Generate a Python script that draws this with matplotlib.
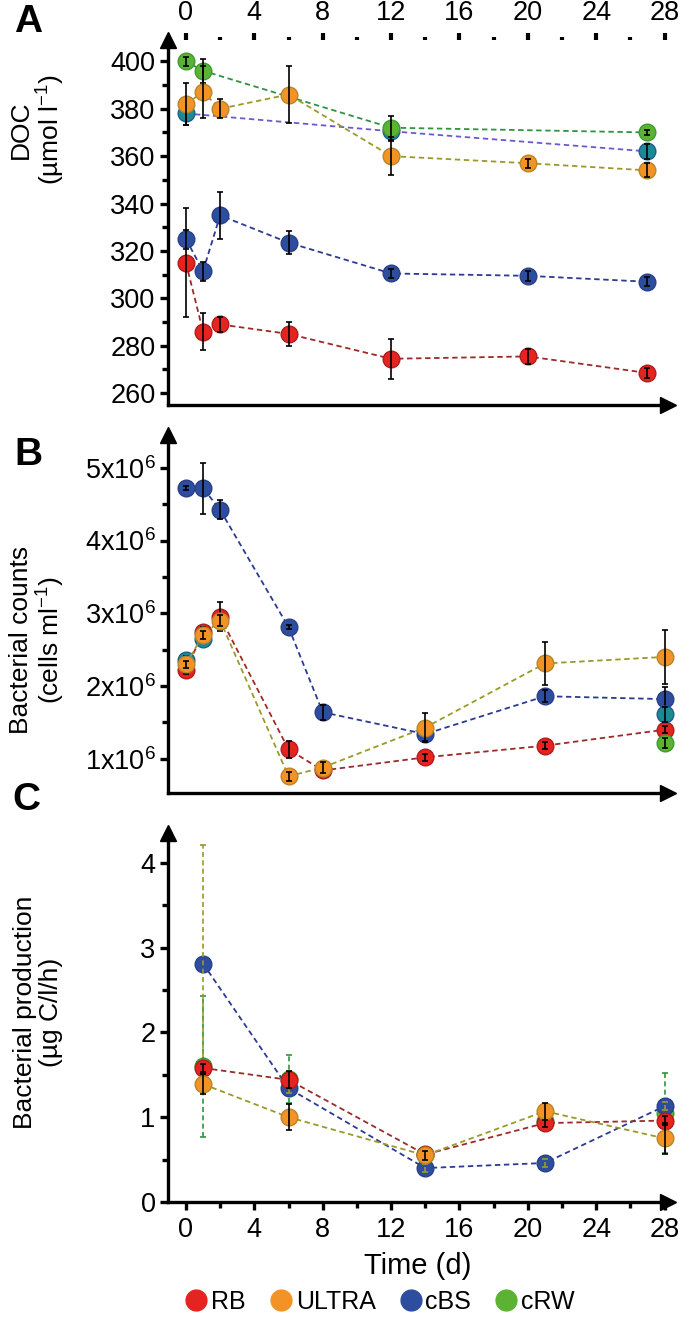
import matplotlib
matplotlib.use("Agg")
import matplotlib.pyplot as plt
from matplotlib.lines import Line2D
from matplotlib.ticker import MultipleLocator, FuncFormatter

plt.rcParams['font.family'] = ['Liberation Sans', 'DejaVu Sans']
plt.rcParams['mathtext.fontset'] = 'custom'
plt.rcParams['mathtext.rm'] = 'Liberation Sans'
plt.rcParams['mathtext.it'] = 'Liberation Sans:italic'

# ---- data -------------------------------------------------------------
# panel A: DOC (umol/l)
a_days = [0, 1, 2, 6, 12, 20, 27]
a_rb = [315, 286, 289, 285, 274.5, 275.5, 268.5]
a_rb_err = [23, 8, 3, 5, 8.5, 3, 2]
a_ultra = [382, 387, 380, 386, 360, 357, 354]
a_ultra_err = [9, 11, 4, 12, 8, 2, 3]
a_cbs = [325, 311.5, 335, 323.5, 310.5, 309.5, 307]
a_cbs_err = [4, 4, 10, 5, 2, 2, 2]
a_crw_days = [0, 1, 12, 27]
a_crw = [400, 396, 372, 370]
a_crw_err = [2, 5, 5, 1]
a_mix_days = [0, 12, 27]
a_mix = [378, 370.5, 362]
a_mix_err = [5, 4, 3]

# panel B: bacterial counts (cells/ml)
b_days = [0, 1, 2, 6, 8, 14, 21, 28]
b_rb = [2.22e6, 2.74e6, 2.95e6, 1.13e6, 0.84e6, 1.02e6, 1.18e6, 1.40e6]
b_rb_err = [0.05e6, 0.07e6, 0.2e6, 0.12e6, 0.06e6, 0.05e6, 0.05e6, 0.05e6]
b_ultra = [2.30e6, 2.70e6, 2.90e6, 0.76e6, 0.88e6, 1.43e6, 2.31e6, 2.40e6]
b_ultra_err = [0.05e6, 0.05e6, 0.08e6, 0.06e6, 0.08e6, 0.2e6, 0.3e6, 0.37e6]
b_cbs = [4.72e6, 4.72e6, 4.42e6, 2.81e6, 1.64e6, 1.34e6, 1.86e6, 1.82e6]
b_cbs_err = [0.03e6, 0.35e6, 0.13e6, 0.03e6, 0.1e6, 0.1e6, 0.08e6, 0.17e6]
b_crw_days = [28]
b_crw = [1.22e6]
b_crw_err = [0.07e6]
b_mix_days = [0, 1, 28]
b_mix = [2.36e6, 2.64e6, 1.61e6]
b_mix_err = [0.05e6, 0.05e6, 0.1e6]

# panel C: bacterial production (ug C/l/h)
c_days = [1, 6, 14, 21, 28]
c_rb = [1.58, 1.44, 0.56, 0.93, 0.96]
c_rb_err = [0.05, 0.1, 0.05, 0.05, 0.05]
c_ultra = [1.39, 1.00, 0.55, 1.07, 0.75]
c_ultra_err = [0.12, 0.15, 0.05, 0.1, 0.18]
c_cbs = [2.81, 1.34, 0.40, 0.46, 1.13]
c_cbs_err = [1.4, 0.05, 0.05, 0.05, 0.05]
c_crw = [1.6, 1.45, 0.55, 0.95, 1.05]
c_crw_err = [0.83, 0.28, 0.05, 0.1, 0.47]

labels = ['RB', 'ULTRA', 'cBS', 'cRW']
fill = {'RB': '#e52421', 'ULTRA': '#f39325', 'cBS': '#2d4e9f',
        'cRW': '#5cb233', 'mix': '#1b8a94'}
edge = {'RB': '#b01c1c', 'ULTRA': '#b8862a', 'cBS': '#2a3f88',
        'cRW': '#3f9a30', 'mix': '#1c5f8a'}
line = {'RB': '#9c2a2a', 'ULTRA': '#9a9a2a', 'cBS': '#2b3a92',
        'cRW': '#2f9440', 'mix': '#6a5ad0'}


def series(ax, days, vals, errs, key, z, connect=True, ecolor='black',
           els='-'):
    if connect:
        ax.plot(days, vals, ls=(0, (3, 2)), lw=1.3, color=line[key],
                zorder=z, clip_on=False)
    ax.plot(days, vals, 'o', ms=12, mfc=fill[key], mec=edge[key],
            mew=1, zorder=z + 0.1, clip_on=False)
    eb = ax.errorbar(days, vals, yerr=errs, fmt='none', ecolor=ecolor,
                     elinewidth=1.2, capsize=2.5, capthick=1.2,
                     zorder=z + 0.2)
    eb[2][0].set_linestyle(els)
    for c in eb[1]:
        c.set_clip_on(False)
    eb[2][0].set_clip_on(False)


def style(ax):
    for s in ['top', 'right']:
        ax.spines[s].set_visible(False)
    ax.spines['left'].set_linewidth(2.4)
    ax.spines['bottom'].set_linewidth(2.4)
    ax.plot(1, 0, '>', color='black', ms=11, transform=ax.transAxes,
            clip_on=False, zorder=20)
    ax.plot(0, 1, '^', color='black', ms=11, transform=ax.transAxes,
            clip_on=False, zorder=20)
    ax.tick_params(axis='y', which='major', direction='out', length=6,
                   width=2.4, labelsize=19.5, pad=3)
    ax.tick_params(axis='y', which='minor', direction='out', length=4,
                   width=2.4)
    ax.set_xlim(-1.05, 28.2)


W, H = 688, 1326
fig = plt.figure(figsize=(W / 100, H / 100), dpi=100)


def make_axes(top, bottom):
    l, r = 168, 668
    return fig.add_axes([l / W, 1 - bottom / H, (r - l) / W,
                         (bottom - top) / H])


axA = make_axes(40, 405)
axB = make_axes(435, 793)
axC = make_axes(833, 1202)

# panel A
style(axA)
axA.set_ylim(255, 409)
axA.yaxis.set_minor_locator(MultipleLocator(10))
axA.set_yticks(range(260, 401, 20))
axA.xaxis.set_ticks_position('top')
axA.xaxis.set_major_locator(MultipleLocator(4))
axA.xaxis.set_minor_locator(MultipleLocator(2))
axA.tick_params(axis='x', which='major', direction='out', length=5,
                width=3, labelsize=19.5, pad=5)
axA.tick_params(axis='x', which='minor', direction='out', length=2,
                width=3)
series(axA, a_mix_days, a_mix, a_mix_err, 'mix', 2)
series(axA, a_days, a_rb, a_rb_err, 'RB', 3)
series(axA, a_days, a_cbs, a_cbs_err, 'cBS', 4)
series(axA, a_crw_days, a_crw, a_crw_err, 'cRW', 5)
series(axA, a_days, a_ultra, a_ultra_err, 'ULTRA', 6)

# panel B
style(axB)
axB.set_ylim(0.53e6, 5.45e6)
axB.yaxis.set_major_locator(MultipleLocator(1e6))
axB.yaxis.set_minor_locator(MultipleLocator(0.5e6))
axB.yaxis.set_major_formatter(
    FuncFormatter(lambda v, p: r'%dx10$^{6}$' % round(v / 1e6)))
axB.tick_params(axis='x', which='both', length=0, labelbottom=False)
series(axB, b_days, b_rb, b_rb_err, 'RB', 3)
series(axB, b_crw_days, b_crw, b_crw_err, 'cRW', 3.5, connect=False)
series(axB, b_days, b_cbs, b_cbs_err, 'cBS', 4)
series(axB, b_mix_days, b_mix, b_mix_err, 'mix', 5, connect=False)
series(axB, b_days, b_ultra, b_ultra_err, 'ULTRA', 6)

# panel C
style(axC)
axC.set_ylim(0, 4.35)
axC.set_yticks([0, 1, 2, 3, 4])
axC.yaxis.set_minor_locator(MultipleLocator(0.5))
axC.xaxis.set_major_locator(MultipleLocator(4))
axC.xaxis.set_minor_locator(MultipleLocator(2))
axC.tick_params(axis='x', which='major', direction='out', length=6,
                width=2.4, labelsize=19.5, pad=5)
axC.tick_params(axis='x', which='minor', direction='out', length=4,
                width=2.4)
series(axC, c_days, c_crw, c_crw_err, 'cRW', 2, connect=False,
       ecolor=line['cRW'], els=(0, (3, 2)))
series(axC, c_days, c_cbs, c_cbs_err, 'cBS', 3, ecolor=line['ULTRA'],
       els=(0, (3, 2)))
series(axC, c_days, c_rb, c_rb_err, 'RB', 4)
series(axC, c_days, c_ultra, c_ultra_err, 'ULTRA', 5)
axC.set_xlabel('Time (d)', fontsize=21, labelpad=6)

# labels
fig.text(38 / W, 1 - 130 / H, 'DOC\n(µmol l$^{-1}$)', rotation=90,
         ha='center', va='center', fontsize=19, multialignment='center',
         linespacing=1.1)
fig.text(38 / W, 1 - 640 / H, 'Bacterial counts\n(cells ml$^{-1}$)',
         rotation=90, ha='center', va='center', fontsize=19,
         multialignment='center', linespacing=1.1)
fig.text(38 / W, 1 - 1012 / H, 'Bacterial production\n(µg C/l/h)',
         rotation=90, ha='center', va='center', fontsize=19,
         multialignment='center', linespacing=1.1)
for letter, x, y in [('A', 28, 22), ('B', 28, 455), ('C', 26, 800)]:
    fig.text(x / W, 1 - y / H, letter, fontsize=28, fontweight='bold',
             ha='center', va='center')

handles = [Line2D([], [], ls='none', marker='o', ms=15, mfc=fill[k],
                  mec=fill[k]) for k in labels]
fig.legend(handles, labels, loc='center', ncol=4, frameon=False,
           bbox_to_anchor=(378 / W, 1 - 1302 / H), fontsize=18,
           handletextpad=0.0, columnspacing=0.8, handlelength=1.2)

fig.savefig('out.png', dpi=100)
